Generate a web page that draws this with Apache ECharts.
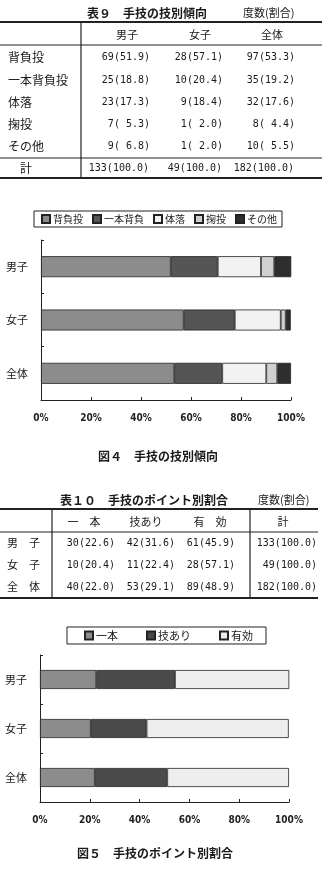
<!DOCTYPE html>
<html><head><meta charset="utf-8">
<script src="https://cdn.jsdelivr.net/npm/echarts@6/dist/echarts.min.js"></script>
<style>html,body{margin:0;padding:0;background:#fff}#c{width:328px;height:886px}</style>
</head><body><div id="c"></div>
<script>
// ---- Table 9 / Figure 4 data ----
const t9Title = '表９　手技の技別傾向';
const t9Unit = '度数(割合)';
const t9Cols = ['男子', '女子', '全体'];
const t9Rows = ['背負投', '一本背負投', '体落', '掬投', 'その他'];
const t9TotalLabel = '計';
const boysCount = [69, 25, 23, 7, 9];
const girlsCount = [28, 10, 9, 1, 1];
const allCount = [97, 35, 32, 8, 10];
const boysPct = [51.9, 18.8, 17.3, 5.3, 6.8];
const girlsPct = [57.1, 20.4, 18.4, 2.0, 2.0];
const allPct = [53.3, 19.2, 17.6, 4.4, 5.5];
const t9Totals = [133, 49, 182];
const fig4Legend = ['背負投', '一本背負', '体落', '掬投', 'その他'];
const groups = ['男子', '女子', '全体'];
const fig4Caption = '図４　手技の技別傾向';

// ---- Table 10 / Figure 5 data ----
const t10Title = '表１０　手技のポイント別割合';
const t10Unit = '度数(割合)';
const t10Heads = ['一　本', '技あり', '有　効', '計'];
const t10Rows = ['男　子', '女　子', '全　体'];
const ipponCount = [30, 10, 40];
const wazaariCount = [42, 11, 53];
const yukoCount = [61, 28, 89];
const ipponPct = [22.6, 20.4, 22.0];
const wazaariPct = [31.6, 22.4, 29.1];
const yukoPct = [45.9, 57.1, 48.9];
const t10Totals = [133, 49, 182];
const fig5Legend = ['一本', '技あり', '有効'];
const fig5Caption = '図５　手技のポイント別割合';

const JP = '"Noto Sans CJK JP"';
const fmt = (c, p) => c + '(' + p.toFixed(1).padStart(4) + ')';

const g = [];
function txt(s, x, y, size, align, opts) {
  opts = opts || {};
  g.push({type: 'text', style: {text: s, x: x, y: y, fill: '#1a1a1a',
    font: (opts.bold ? 'bold ' : '') + size + 'px ' + (opts.mono ? '"DejaVu Sans Mono"' : JP),
    textAlign: align, textVerticalAlign: 'middle'}});
}
function line(x1, y1, x2, y2, w) {
  g.push({type: 'line', shape: {x1: x1, y1: y1, x2: x2, y2: y2}, style: {stroke: '#222', lineWidth: w || 1}});
}

// Table 9
txt(t9Title, 87, 13, 12, 'left', {bold: true});
txt(t9Unit, 243, 13, 11, 'left');
line(0, 22, 322, 22, 2);
line(0, 45, 322, 45, 1.2);
line(0, 158, 322, 158, 1.2);
line(0, 178, 322, 178, 2);
line(81, 22, 81, 178, 1.2);
const t9ColCenters = [127, 200, 272];
const t9ColRights = [150, 223, 295];
t9Cols.forEach((c, i) => txt(c, t9ColCenters[i], 35, 11, 'center'));
const t9RowY = [57, 80, 102, 124, 146];
const t9Data = [[boysCount, boysPct], [girlsCount, girlsPct], [allCount, allPct]];
t9Rows.forEach((r, j) => {
  txt(r, 8, t9RowY[j], 12, 'left');
  t9Data.forEach((d, i) => txt(fmt(d[0][j], d[1][j]), t9ColRights[i], t9RowY[j], 10, 'right', {mono: true}));
});
txt(t9TotalLabel, 26, 168, 12, 'center');
t9Totals.forEach((t, i) => txt(fmt(t, 100), t9ColRights[i] - 1, 168, 10, 'right', {mono: true}));
txt(fig4Caption, 158, 456, 12, 'center', {bold: true});

// Table 10
txt(t10Title, 60, 500, 12, 'left', {bold: true});
txt(t10Unit, 258, 500, 11, 'left');
line(0, 509, 318, 509, 2);
line(0, 532, 318, 532, 1.2);
line(0, 598, 318, 598, 2);
line(52, 509, 52, 598, 1.2);
line(250, 509, 250, 598, 1.2);
const t10HeadX = [84, 146, 210, 283];
t10Heads.forEach((h, i) => txt(h, t10HeadX[i], 522, 11, 'center'));
const t10RowY = [543, 565, 587];
const t10ColRights = [115, 175, 235, 317];
const t10Data = [[ipponCount, ipponPct], [wazaariCount, wazaariPct], [yukoCount, yukoPct]];
t10Rows.forEach((r, j) => {
  txt(r, 7, t10RowY[j], 11, 'left');
  t10Data.forEach((d, i) => txt(fmt(d[0][j], d[1][j]), t10ColRights[i], t10RowY[j], 10, 'right', {mono: true}));
  txt(fmt(t10Totals[j], 100), t10ColRights[3], t10RowY[j], 10, 'right', {mono: true});
});
txt(fig5Caption, 155, 853, 12, 'center', {bold: true});

const fig4Colors = ['#8c8c8c', '#555555', '#f2f2f2', '#d0d0d0', '#2e2e2e'];
const fig5Colors = ['#8c8c8c', '#4a4a4a', '#eeeeee'];
const fig4Vals = fig4Legend.map((n, i) => [boysPct[i], girlsPct[i], allPct[i]]);
const fig5Vals = [ipponPct, wazaariPct, yukoPct];

function xAx(gi) {
  return {type: 'value', gridIndex: gi, min: 0, max: 100, interval: 20,
    axisLine: {show: true, lineStyle: {color: '#222', width: 1}},
    axisTick: {show: true, inside: true, length: 3, lineStyle: {color: '#222'}},
    splitLine: {show: false},
    axisLabel: {formatter: '{value}%', fontSize: 10, color: '#222', margin: 13, fontFamily: '"DejaVu Sans Condensed"', fontWeight: 'bold'}};
}
function yAx(gi) {
  return {type: 'category', gridIndex: gi, data: groups, inverse: true,
    axisLine: {show: true, lineStyle: {color: '#222', width: 1}},
    axisTick: {show: true, inside: true, length: 3, lineStyle: {color: '#222'}},
    axisLabel: {fontSize: 11, color: '#1a1a1a', margin: 13, fontFamily: JP}};
}

const series = [];
fig4Legend.forEach((n, i) => series.push({name: n, type: 'bar', stack: 'a', xAxisIndex: 0, yAxisIndex: 0,
  barWidth: 21, data: fig4Vals[i], itemStyle: {color: fig4Colors[i], borderColor: '#222', borderWidth: 0.8}}));
fig5Legend.forEach((n, i) => series.push({name: n, type: 'bar', stack: 'b', xAxisIndex: 1, yAxisIndex: 1,
  barWidth: 19, data: fig5Vals[i], itemStyle: {color: fig5Colors[i], borderColor: '#222', borderWidth: 0.8}}));

const chart = echarts.init(document.getElementById('c'));
chart.setOption({
  animation: false,
  backgroundColor: '#fff',
  grid: [
    {left: 41, width: 250, top: 240, height: 160},
    {left: 40, width: 249, top: 655, height: 147}
  ],
  xAxis: [xAx(0), xAx(1)],
  yAxis: [yAx(0), yAx(1)],
  legend: [
    {data: fig4Legend, left: 34, top: 211, orient: 'horizontal', icon: 'rect', itemWidth: 8, itemHeight: 8,
      itemGap: 9, padding: [3, 5, 3, 7], borderColor: '#222', borderWidth: 1, selectedMode: false,
      textStyle: {fontSize: 10, color: '#1a1a1a', fontFamily: JP, padding: [0, 0, 0, -2]}},
    {data: fig5Legend, left: 67, top: 627, orient: 'horizontal', icon: 'rect', itemWidth: 8, itemHeight: 8,
      itemGap: 28, padding: [3, 13, 3, 17], borderColor: '#222', borderWidth: 1, selectedMode: false,
      textStyle: {fontSize: 11, color: '#1a1a1a', fontFamily: JP, padding: [0, 0, 0, -2]}}
  ],
  series: series,
  graphic: g
});
</script></body></html>
